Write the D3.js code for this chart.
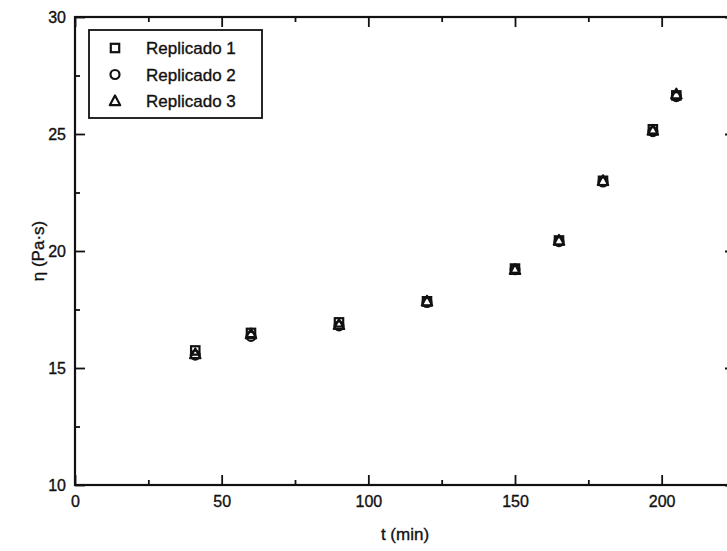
<!DOCTYPE html>
<html><head><meta charset="utf-8">
<script src="https://cdn.jsdelivr.net/npm/d3@7"></script>
<style>body{margin:0;background:#fff}svg{display:block}text{font-family:"Liberation Sans",Arial,sans-serif;fill:#111;stroke:#111;stroke-width:0.35px}</style>
</head><body><svg id="c" width="727" height="551"></svg>
<script>
const times = [41, 60, 90, 120, 150, 165, 180, 197, 205];
const rep1 = [15.75, 16.5, 16.95, 17.85, 19.25, 20.45, 23.0, 25.2, 26.65];
const rep2 = [15.55, 16.35, 16.8, 17.8, 19.2, 20.4, 22.95, 25.1, 26.6];
const rep3 = [15.6, 16.45, 16.85, 17.85, 19.2, 20.45, 23.0, 25.15, 26.7];
const seriesNames = ["Replicado 1", "Replicado 2", "Replicado 3"];
const xTicks = [0, 50, 100, 150, 200];
const yTicks = [10, 15, 20, 25, 30];

const svg = d3.select("#c");
const L = 75, R = 735, T = 17, B = 485;
const x = d3.scaleLinear().domain([0, 225]).range([L, R]);
const y = d3.scaleLinear().domain([10, 30]).range([B, T]);
const ink = "#111";
const fontFam = '"Liberation Sans",Arial,sans-serif';

const g = svg.append("g");
function ticks(axisGen, tr, minorVals, majorVals, major) {
  const a = g.append("g").attr("transform", tr);
  a.call(axisGen.tickValues(minorVals).tickSize(5).tickFormat(""));
  a.call(s => s.selectAll("path").remove());
  const b = g.append("g").attr("transform", tr);
  b.call(major.tickValues(majorVals).tickSize(10).tickFormat(""));
  b.call(s => s.selectAll("path").remove());
  g.selectAll("line").attr("stroke", ink).attr("stroke-width", 1.8);
}
const xMinor = d3.range(25, 225, 50);
const yMinor = [12.5, 17.5, 22.5, 27.5];
ticks(d3.axisTop(x), `translate(0,${B})`, xMinor, xTicks, d3.axisTop(x));
ticks(d3.axisBottom(x), `translate(0,${T})`, xMinor, xTicks, d3.axisBottom(x));
ticks(d3.axisRight(y), `translate(${L},0)`, yMinor, yTicks, d3.axisRight(y));
ticks(d3.axisLeft(y), `translate(${R},0)`, yMinor, yTicks, d3.axisLeft(y));

svg.append("rect").attr("x", L).attr("y", T).attr("width", R - L).attr("height", B - T)
  .attr("fill", "none").attr("stroke", ink).attr("stroke-width", 2.2);

const xl = svg.append("g").attr("transform", `translate(0,${B + 8})`)
  .call(d3.axisBottom(x).tickValues(xTicks).tickSize(0).tickPadding(3).tickFormat(d3.format("d")));
xl.select("path").remove();
xl.selectAll("text").attr("font-size", 16).attr("fill", ink).style("font-family", fontFam);
const yl = svg.append("g").attr("transform", `translate(${L - 9},0)`)
  .call(d3.axisLeft(y).tickValues(yTicks).tickSize(0).tickPadding(0).tickFormat(d3.format("d")));
yl.select("path").remove();
yl.selectAll("text").attr("font-size", 16).attr("fill", ink).style("font-family", fontFam);

svg.append("text").attr("x", (L + R) / 2).attr("y", 540).attr("text-anchor", "middle").attr("font-size", 17).text("t (min)");
svg.append("text").attr("transform", `translate(44,${y(20)}) rotate(-90)`).attr("text-anchor", "middle").attr("font-size", 17).text("η (Pa·s)");

const sw = 2.2;
function square(sel, cx, cy) { sel.append("rect").attr("x", cx - 4.2).attr("y", cy - 4.2).attr("width", 8.4).attr("height", 8.4).attr("fill", "none").attr("stroke", ink).attr("stroke-width", sw); }
function circle(sel, cx, cy) { sel.append("circle").attr("cx", cx).attr("cy", cy).attr("r", 4.5).attr("fill", "none").attr("stroke", ink).attr("stroke-width", sw); }
function tri(sel, cx, cy) { sel.append("path").attr("d", `M${cx},${cy - 5.5}L${cx + 5.2},${cy + 4.2}L${cx - 5.2},${cy + 4.2}Z`).attr("fill", "none").attr("stroke", ink).attr("stroke-width", sw).attr("stroke-linejoin", "round"); }
const drawers = [square, circle, tri];
const series = [rep1, rep2, rep3];
const pts = svg.append("g");
series.forEach((s, i) => s.forEach((v, j) => drawers[i](pts, x(times[j]), y(v))));

const lg = svg.append("g");
lg.append("rect").attr("x", 89).attr("y", 30).attr("width", 173).attr("height", 88).attr("fill", "#fff").attr("stroke", ink).attr("stroke-width", 1.8);
seriesNames.forEach((n, i) => {
  const cy = 48 + i * 26.5;
  drawers[i](lg, 115, cy);
  lg.append("text").attr("x", 146).attr("y", cy + 6).attr("font-size", 17).text(n);
});
</script></body></html>
